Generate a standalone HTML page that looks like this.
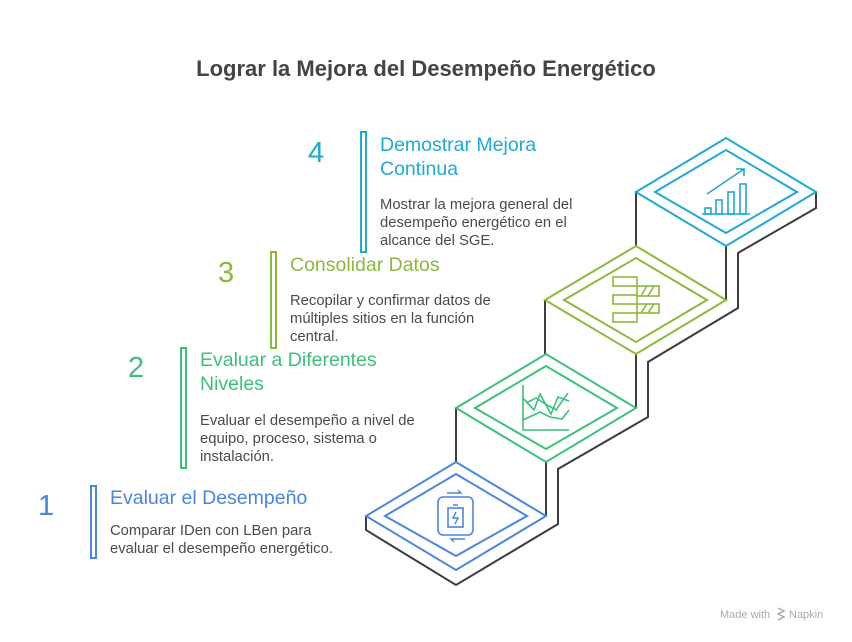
<!DOCTYPE html>
<html><head><meta charset="utf-8"><style>
body{margin:0;background:#fff;width:852px;height:642px;overflow:hidden;font-family:"Liberation Sans",Arial,sans-serif}
svg{position:absolute;left:0;top:0}
</style></head><body>
<svg width="852" height="642" viewBox="0 0 852 642" xmlns="http://www.w3.org/2000/svg" font-family="Liberation Sans, Arial, sans-serif">
<text x="426" y="76" text-anchor="middle" font-size="22" font-weight="bold" fill="#444">Lograr la Mejora del Desempeño Energético</text>

<g fill="none" stroke="#3d3d3d" stroke-width="2" stroke-linejoin="miter">
<polyline points="366,516 366,530 456,585 558,524 558,469 648,417 648,362 738,308 738,253 816,208 816,192"/>
<line x1="456" y1="408" x2="456" y2="462"/>
<line x1="546" y1="462" x2="546" y2="516"/>
<line x1="545" y1="300" x2="545" y2="354"/>
<line x1="636" y1="354" x2="636" y2="408"/>
<line x1="636" y1="192" x2="636" y2="246"/>
<line x1="726" y1="246" x2="726" y2="300"/>
</g>

<g fill="none" stroke="#4a86e0" stroke-width="2">
<polygon points="366,516 456,462 546,516 456,570" fill="#fff"/>
<polygon points="385,516 456,474 527,516 456,556"/>
<rect x="438" y="497" width="35" height="38" rx="5" stroke-width="1.6"/>
<rect x="448" y="508" width="15" height="19" stroke-width="1.6"/>
<path d="M453,505h5M456,512l-3,6h5l-3,6" stroke-width="1.4"/>
<path d="M447,493h14l-3,-3M465,539h-14l3,3" stroke-width="1.4"/>
</g>
<g fill="none" stroke="#3cc07c" stroke-width="2">
<polygon points="456,408 546,354 636,408 546,462" fill="#fff"/>
<polygon points="475,408 546,366 617,408 546,449"/>
<polyline points="523,385 523,430 569,430" stroke-width="1.6"/>
<polyline points="523,420 540,412 550,417 562,419 569,410" stroke-width="1.6"/>
<polyline points="523,398 534,410 540,394 551,414 558,397 569,401" stroke-width="1.6"/>
<polyline points="526,403 536,398 547,405 556,410 568,393" stroke-width="1.6"/>
</g>
<g fill="none" stroke="#8db93a" stroke-width="2">
<polygon points="545,300 636,246 726,300 636,354" fill="#fff"/>
<polygon points="564,300 636,258 707,300 636,342"/>
<g stroke-width="1.6">
<rect x="613" y="277" width="24" height="9"/><rect x="613" y="295" width="24" height="9"/><rect x="613" y="313" width="24" height="9"/>
<rect x="637" y="286" width="22" height="10"/><rect x="637" y="304" width="22" height="9"/>
<path d="M641,296l6,-10M648,296l6,-10M641,313l6,-9M648,313l6,-9"/>
</g>
</g>
<g fill="none" stroke="#1fa9d8" stroke-width="2">
<polygon points="636,192 726,138 816,192 726,246" fill="#fff"/>
<polygon points="655,192 726,150 797,192 726,233"/>
<g stroke-width="1.6">
<line x1="702" y1="214" x2="750" y2="214"/>
<rect x="705" y="208" width="6" height="6"/><rect x="716" y="200" width="6" height="14"/><rect x="728" y="192" width="6" height="22"/><rect x="740" y="184" width="6" height="30"/>
<path d="M707,194L744,169M736,169h8v7"/>
</g>
</g>

<rect x="361" y="132" width="5" height="120" fill="none" stroke="#1fa9d8" stroke-width="2"/>
<rect x="271" y="252" width="5" height="96" fill="none" stroke="#8db93a" stroke-width="2"/>
<rect x="181" y="348" width="5" height="120" fill="none" stroke="#3cc07c" stroke-width="2"/>
<rect x="91" y="486" width="5" height="72" fill="none" stroke="#4a86e0" stroke-width="2"/>

<g font-size="29">
<text x="308" y="162" fill="#1fa9d8">4</text>
<text x="218" y="282" fill="#8db93a">3</text>
<text x="128" y="377" fill="#3cc07c">2</text>
<text x="38" y="515" fill="#4a86e0">1</text>
</g>
<g font-size="19.5">
<text x="380" y="151" fill="#1fa9d8">Demostrar Mejora</text>
<text x="380" y="175" fill="#1fa9d8">Continua</text>
<text x="290" y="271" fill="#8db93a">Consolidar Datos</text>
<text x="200" y="366" fill="#3cc07c">Evaluar a Diferentes</text>
<text x="200" y="390" fill="#3cc07c">Niveles</text>
<text x="110" y="504" fill="#4a86e0">Evaluar el Desempeño</text>
</g>
<g font-size="14.8" fill="#4a4a4a">
<text x="380" y="209">Mostrar la mejora general del</text>
<text x="380" y="227">desempeño energético en el</text>
<text x="380" y="245">alcance del SGE.</text>
<text x="290" y="305">Recopilar y confirmar datos de</text>
<text x="290" y="323">múltiples sitios en la función</text>
<text x="290" y="341">central.</text>
<text x="200" y="425">Evaluar el desempeño a nivel de</text>
<text x="200" y="443">equipo, proceso, sistema o</text>
<text x="200" y="461">instalación.</text>
<text x="110" y="535">Comparar IDen con LBen para</text>
<text x="110" y="553">evaluar el desempeño energético.</text>
</g>
<text x="720" y="618" font-size="11" fill="#aaa">Made with</text>
<path d="M778,608l6,3-6,3 6,3-6,3" fill="none" stroke="#aaa" stroke-width="1.5"/>
<text x="789" y="618" font-size="11" fill="#aaa">Napkin</text>
</svg>
</body></html>
